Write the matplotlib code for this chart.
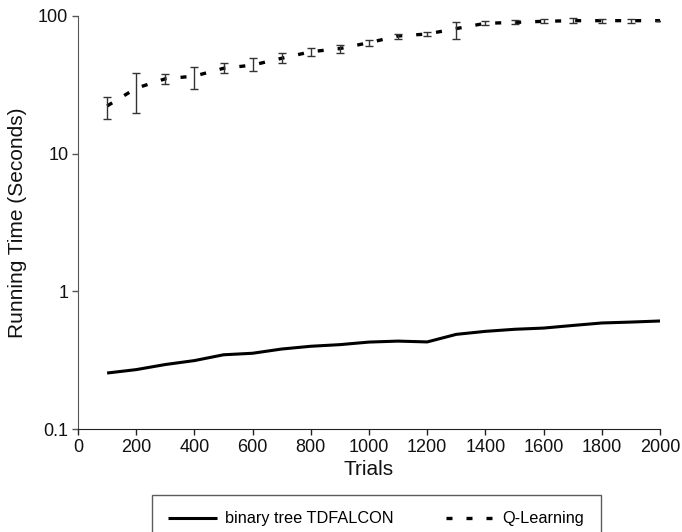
import matplotlib
matplotlib.use("Agg")
import matplotlib.pyplot as plt
from matplotlib.ticker import FixedLocator, NullLocator

plt.rcParams['font.family'] = ['Liberation Sans', 'DejaVu Sans']

trials = [100, 200, 300, 400, 500, 600, 700, 800, 900, 1000,
          1100, 1200, 1300, 1400, 1500, 1600, 1700, 1800, 1900, 2000]

# binary tree TDFALCON running time (seconds)
tdfalcon = [0.255, 0.27, 0.294, 0.314, 0.346, 0.355, 0.381, 0.399, 0.410, 0.428,
            0.435, 0.429, 0.487, 0.512, 0.530, 0.541, 0.565, 0.589, 0.598, 0.609]

# Q-Learning running time (seconds) and error (lower, upper)
qlearn = [22.2, 29.9, 35.0, 36.6, 41.7, 44.0, 49.3, 55.0, 58.0, 64.0,
          71.6, 74.0, 81.0, 88.5, 89.8, 91.5, 92.5, 92.5, 92.5, 92.5]
q_err_lo = [4.3, 10.0, 3.1, 6.9, 3.0, 4.2, 3.9, 4.0, 4.0, 3.0,
            3.0, 3.0, 13.3, 3.0, 3.0, 3.0, 4.0, 3.0, 3.0, 0.0]
q_err_hi = [3.6, 8.8, 2.7, 6.2, 3.7, 5.3, 4.3, 4.0, 4.0, 3.0,
            3.0, 3.0, 10.0, 3.0, 3.0, 3.0, 4.0, 3.0, 3.0, 0.0]

fig = plt.figure(figsize=(6.82, 5.32), dpi=100)
ax = fig.add_axes([78/682, 1 - 429/532, (660-78)/682, (429-16)/532])

ax.plot(trials, tdfalcon, color='black', lw=2.2, solid_capstyle='butt',
        label='binary tree TDFALCON')
ax.plot(trials, qlearn, color='black', lw=2.4, dashes=(1.8, 4.2),
        label='Q-Learning')
ax.errorbar(trials, qlearn, yerr=[q_err_lo, q_err_hi], fmt='none',
            ecolor='#333333', elinewidth=1, capsize=3, capthick=1)

ax.set_yscale('log')
ax.set_ylim(0.1, 100)
ax.set_xlim(0, 2000)
ax.yaxis.set_major_locator(FixedLocator([0.1, 1, 10, 100]))
ax.yaxis.set_minor_locator(NullLocator())
ax.set_yticklabels(['0.1', '1', '10', '100'])
ax.set_xticks(range(0, 2001, 200))

for s in ['top', 'right']:
    ax.spines[s].set_visible(False)
ax.spines['left'].set_color('#555555')
ax.spines['bottom'].set_color('#222222')
ax.tick_params(axis='y', direction='out', length=4, width=1, colors='#555555',
               labelcolor='#111111', labelsize=13, pad=3)
ax.tick_params(axis='x', direction='out', length=4, width=1, colors='#222222',
               labelcolor='#111111', labelsize=13, pad=3)

ax.set_xlabel('Trials', fontsize=15, labelpad=3, color='#111111')
ax.set_ylabel('Running Time (Seconds)', fontsize=15, labelpad=8, color='#111111')

leg = fig.legend(loc='upper left', bbox_to_anchor=(152/682, 1 - 495/532), ncol=2,
                 fontsize=11.7, frameon=True, fancybox=False,
                 handlelength=3.0, handletextpad=0.5, columnspacing=3.2,
                 borderpad=1.0, borderaxespad=0)
leg.get_frame().set_edgecolor('#333333')
leg.get_frame().set_linewidth(1)

fig.savefig('out.png', dpi=100)
